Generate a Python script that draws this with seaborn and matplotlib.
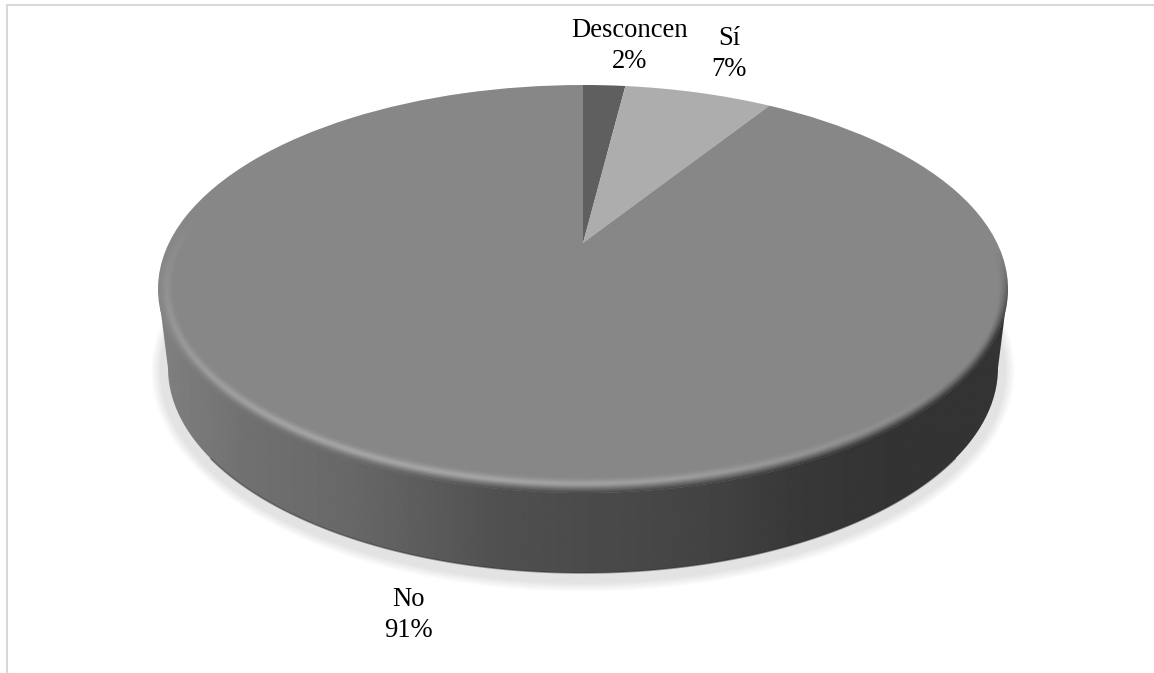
import numpy as np
import matplotlib
matplotlib.use("Agg")
import matplotlib.pyplot as plt
from matplotlib.colors import LinearSegmentedColormap
from matplotlib.lines import Line2D
from matplotlib.patches import Circle, Ellipse, PathPatch
from matplotlib.path import Path
from matplotlib.transforms import Transform
import seaborn as sns

# ---- data ----
categories = ["Desconcen", "Sí", "No"]
values = [2, 7, 91]
slice_colors = ["#5f5f5f", "#adadad", "#878787"]
label_pixels = [(630, 46), (729, 54), (408, 615)]

# ---- geometry / style ----
W, H = 1154, 673
CX, CY, RX, RY = 583, 289, 425, 204      # top face, pixels
BCY, BRX, BRY = 368, 415, 205            # bottom rim, pixels
APEX_Y = 243                             # where the slices meet, pixels
side_stops_x = [158, 250, 350, 500, 700, 800, 900, 1008]
side_stops_g = [0x80, 0x70, 0x68, 0x50, 0x44, 0x38, 0x33, 0x33]

sns.set_theme(style="white")
plt.rcParams["font.family"] = ["Liberation Serif", "DejaVu Serif"]

fig = plt.figure(figsize=(W / 100, H / 100), dpi=100, facecolor="white")
ax = fig.add_axes([(CX - RX) / W, 1 - (CY + RY) / H, 2 * RX / W, 2 * RY / H])
ax.axis("off")


class Perspective(Transform):
    """Projective map of the unit disc that moves the pie centre towards the far edge."""
    input_dims = output_dims = 2
    is_affine = False
    has_inverse = False

    def __init__(self, c):
        super().__init__()
        self.c = c

    def transform_non_affine(self, xy):
        xy = np.asarray(xy, float)
        d = 1 + self.c * xy[:, 1]
        return np.column_stack((xy[:, 0] * np.sqrt(1 - self.c ** 2) / d,
                                (xy[:, 1] + self.c) / d))


# Ground shadow
for k in range(14):
    f = 1 - 0.6 * k / 14
    ax.add_patch(Ellipse((0, -(BCY + 3 - CY) / RY), 2 * (BRX + 17 * f) / RX,
                         2 * (BRY + 16 * f) / RY, fc="black", ec="none",
                         alpha=0.0085, zorder=1, clip_on=False))

# Side wall with horizontal gradient
bcy = -(BCY - CY) / RY
th = np.linspace(np.pi, 2 * np.pi, 200)
arc = np.column_stack((BRX / RX * np.cos(th), bcy + BRY / RY * np.sin(th)))
verts = np.vstack(([(-1, 0)], arc, [(1, 0)], [(-1, 0)]))
side = PathPatch(Path(verts), fc="none", ec="none", transform=ax.transData, clip_on=False)
ax.add_patch(side)

px = np.arange(CX - RX, CX + RX + 1)
side_g = np.interp(px, side_stops_x, side_stops_g) / 255
gray_cmap = LinearSegmentedColormap.from_list("g", ["black", "white"])
im = ax.imshow(side_g[None, :], extent=(-1, 1, -1.6, 0.2), cmap=gray_cmap, vmin=0, vmax=1,
               aspect="auto", zorder=2, interpolation="bilinear")
im.set_clip_box(fig.bbox)
im.set_clip_path(side)
# thin darker bottom rim, only on the visible front
front = np.abs(np.cos(th)) < 0.9
ax.plot(arc[front, 0], arc[front, 1], color="#2a2a2a", lw=1.2, alpha=0.45, zorder=2.5, clip_on=False)

# Top face: the pie itself
palette = sns.color_palette(slice_colors)
wedges, _ = ax.pie(values, colors=palette, startangle=90, counterclock=False, radius=1,
                   wedgeprops=dict(linewidth=0))
persp = Perspective((CY - APEX_Y) / RY)
for w in wedges:
    w.set_transform(persp + ax.transData)
    w.set_zorder(3)
    w.set_clip_on(False)

# Bevel on the rim
xs = np.linspace(-1, 1, 1700)
ys = np.linspace(-1, 1, 832)
X, Y = np.meshgrid(xs, ys)
R = np.hypot(X, Y) + 1e-6
grad = np.hypot(X / (R * RX), Y / (R * RY))
dist = (1 - R) / grad
t = np.clip(1 - dist / 17, 0, 1)
theta = np.arctan2(Y, X)
light = np.clip(np.cos(theta - np.radians(-115)), 0, 1) ** 1.2
high = np.zeros(X.shape + (4,))
high[..., :3] = 1
high[..., 3] = 0.26 * np.exp(-((t - 0.5) / 0.26) ** 2) * light * (t > 0)
dark = np.zeros(X.shape + (4,))
dark[..., :3] = (np.interp((X + 1) / 2 * 2 * RX + CX - RX, side_stops_x, side_stops_g) / 255)[..., None]
w_dark = np.clip(0.02 - 2.4 * Y + 0.45 * np.clip(X, 0, 1) * (Y < 0.6), 0, 1)
dark[..., 3] = (t > 0) * np.clip((t - 0.45) / 0.55, 0, 1) ** 1.4 * w_dark
clip = Circle((0, 0), 1, transform=ax.transData, fc="none", ec="none")
ax.add_patch(clip)
for arr, z in ((high, 4), (dark, 5)):
    i = ax.imshow(arr, extent=(-1, 1, -1, 1), origin="lower", aspect="auto", zorder=z,
                  interpolation="bilinear")
    i.set_clip_path(clip)

ax.set_aspect("auto")
ax.set_xlim(-1, 1)
ax.set_ylim(-1, 1)

# Data labels
for cat, val, (lx, ly) in zip(categories, values, label_pixels):
    fig.text(lx / W, 1 - ly / H, f"{cat}\n{val}%", ha="center", va="center",
             fontsize=19.2, color="black", linespacing=1.35)

# Chart frame (only top and left fall inside the picture)
fig.add_artist(Line2D([7 / W, 1], [1 - 5 / H, 1 - 5 / H], color="#d9d9d9", lw=1.5))
fig.add_artist(Line2D([7 / W, 7 / W], [1 - 5 / H, 0], color="#d9d9d9", lw=1.5))

fig.savefig("out.png", dpi=100, facecolor="white")
